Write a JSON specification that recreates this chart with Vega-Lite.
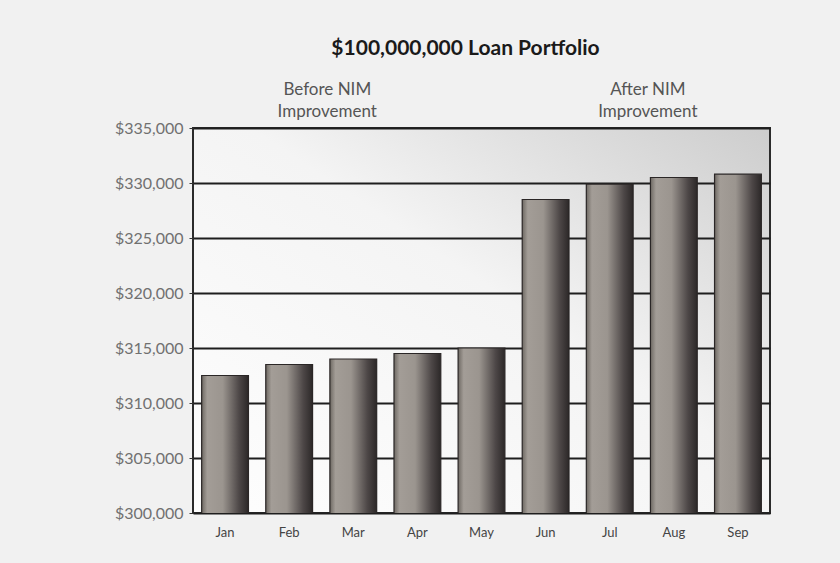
{
  "$schema": "https://vega.github.io/schema/vega-lite/v6.json",
  "width": 577,
  "height": 385,
  "autosize": {"type": "none"},
  "padding": {"left": 193, "top": 128, "right": 70, "bottom": 50},
  "background": "#f1f1f1",
  "title": {
    "text": "$100,000,000 Loan Portfolio",
    "font": "Lato",
    "fontSize": 21,
    "fontWeight": "bold",
    "color": "#1a1a1a",
    "anchor": "middle",
    "frame": "group",
    "offset": 22,
    "dx": -16
  },
  "config": {
    "view": {
      "stroke": "#2b2b2b",
      "strokeWidth": 2,
      "fill": {
        "gradient": "linear",
        "x1": 0, "y1": 1, "x2": 1, "y2": 0,
        "stops": [
          {"offset": 0, "color": "#fefefe"},
          {"offset": 0.55, "color": "#f4f4f4"},
          {"offset": 1, "color": "#cdcdcd"}
        ]
      }
    }
  },
  "datasets": {
    "bars": [
      {"month": "Jan", "value": 312500},
      {"month": "Feb", "value": 313500},
      {"month": "Mar", "value": 314000},
      {"month": "Apr", "value": 314500},
      {"month": "May", "value": 315000},
      {"month": "Jun", "value": 328500},
      {"month": "Jul", "value": 329900},
      {"month": "Aug", "value": 330500},
      {"month": "Sep", "value": 330800}
    ],
    "notes": [
      {"month": "Mar", "label": "Before NIM\nImprovement"},
      {"month": "Aug", "label": "After NIM\nImprovement"}
    ]
  },
  "layer": [
    {
      "data": {"name": "bars"},
      "mark": {
        "type": "bar",
        "clip": true,
        "stroke": "#2a2626",
        "strokeWidth": 1.2,
        "fill": {
          "gradient": "linear",
          "x1": 0, "y1": 0, "x2": 1, "y2": 0,
          "stops": [
            {"offset": 0, "color": "#6e6963"},
            {"offset": 0.12, "color": "#a39d97"},
            {"offset": 0.45, "color": "#9b958f"},
            {"offset": 0.8, "color": "#4d4747"},
            {"offset": 1, "color": "#2c2828"}
          ]
        }
      },
      "encoding": {
        "x": {
          "field": "month",
          "type": "ordinal",
          "scale": {
            "domain": ["Jan", "Feb", "Mar", "Apr", "May", "Jun", "Jul", "Aug", "Sep"],
            "paddingInner": 0.27,
            "paddingOuter": 0.135
          },
          "axis": {
            "title": null,
            "labelAngle": 0,
            "labelFont": "Lato",
            "labelFontSize": 13,
            "labelColor": "#444444",
            "labelPadding": 13,
            "ticks": false,
            "domain": false
          }
        },
        "y": {
          "field": "value",
          "type": "quantitative",
          "scale": {"domain": [300000, 335000], "nice": false, "zero": false},
          "axis": {
            "title": null,
            "values": [300000, 305000, 310000, 315000, 320000, 325000, 330000, 335000],
            "format": "$,.0f",
            "labelFont": "Lato",
            "labelFontSize": 16,
            "labelColor": "#707070",
            "labelPadding": 6,
            "tickSize": 4,
            "tickColor": "#333333",
            "domain": false,
            "grid": true,
            "gridColor": "#1e1e1e",
            "gridWidth": 2,
            "gridOpacity": 1
          }
        }
      }
    },
    {
      "data": {"name": "notes"},
      "mark": {
        "type": "text",
        "font": "Lato",
        "fontSize": 17,
        "color": "#555555",
        "lineBreak": "\n",
        "lineHeight": 22,
        "baseline": "bottom",
        "align": "center",
        "dx": -26,
        "dy": -29,
        "clip": false
      },
      "encoding": {
        "x": {"field": "month", "type": "ordinal"},
        "y": {"datum": 335000},
        "text": {"field": "label"}
      }
    }
  ]
}
